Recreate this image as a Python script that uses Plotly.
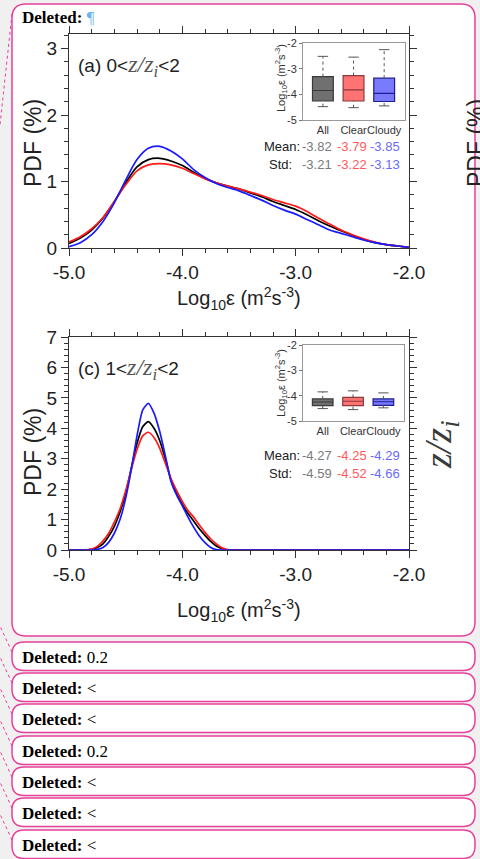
import plotly.graph_objects as go

W, H = 480, 859

# ---------------- data ----------------
x_top = [-5.0, -4.9, -4.8, -4.7, -4.6, -4.5, -4.4, -4.3, -4.2, -4.1, -4.0,
         -3.9, -3.8, -3.7, -3.6, -3.5, -3.4, -3.3, -3.2, -3.1, -3.0,
         -2.9, -2.8, -2.7, -2.6, -2.5, -2.4, -2.3, -2.2, -2.1, -2.0]
pdf_top_all = [0.07, 0.15, 0.27, 0.45, 0.70, 0.98, 1.22, 1.33, 1.35, 1.31, 1.24,
               1.14, 1.05, 0.98, 0.93, 0.89, 0.83, 0.77, 0.70, 0.64, 0.58,
               0.50, 0.41, 0.33, 0.26, 0.19, 0.13, 0.08, 0.05, 0.03, 0.01]
pdf_top_clear = [0.09, 0.17, 0.29, 0.46, 0.70, 0.95, 1.16, 1.25, 1.27, 1.25, 1.20,
                 1.12, 1.04, 0.98, 0.93, 0.89, 0.84, 0.79, 0.73, 0.68, 0.63,
                 0.55, 0.45, 0.36, 0.27, 0.20, 0.14, 0.09, 0.05, 0.03, 0.01]
pdf_top_cloudy = [0.02, 0.08, 0.20, 0.40, 0.68, 1.02, 1.33, 1.50, 1.53, 1.46, 1.34,
                  1.18, 1.06, 0.97, 0.91, 0.86, 0.79, 0.72, 0.64, 0.57, 0.51,
                  0.43, 0.35, 0.27, 0.22, 0.17, 0.12, 0.08, 0.05, 0.03, 0.01]

x_bot = [-5.0, -4.9, -4.85, -4.8, -4.75, -4.7, -4.65, -4.6, -4.55, -4.5, -4.45,
         -4.4, -4.35, -4.3, -4.25, -4.2, -4.15, -4.1, -4.05, -4.0, -3.95, -3.9,
         -3.85, -3.8, -3.75, -3.7, -3.65, -3.6, -3.55, -3.5, -3.0, -2.5, -2.0]
pdf_bot_all = [0, 0, 0, 0.02, 0.08, 0.2, 0.45, 0.78, 1.25, 1.85, 2.7,
               3.5, 4.05, 4.22, 4.0, 3.6, 3.0, 2.3, 1.85, 1.5, 1.2, 0.95,
               0.7, 0.48, 0.28, 0.13, 0.04, 0, 0, 0, 0, 0, 0]
pdf_bot_clear = [0, 0, 0, 0.03, 0.12, 0.3, 0.55, 0.92, 1.35, 1.95, 2.65,
                 3.3, 3.75, 3.87, 3.7, 3.35, 2.85, 2.35, 1.95, 1.6, 1.3, 1.08,
                 0.82, 0.58, 0.37, 0.2, 0.07, 0.01, 0, 0, 0, 0, 0]
pdf_bot_cloudy = [0, 0, 0, 0, 0.02, 0.08, 0.25, 0.55, 1.0, 1.7, 2.65,
                  3.75, 4.6, 4.82, 4.5, 3.9, 3.1, 2.25, 1.8, 1.45, 1.08, 0.75,
                  0.46, 0.24, 0.08, 0.01, 0, 0, 0, 0, 0, 0, 0]

categories = ["All", "Clear", "Cloudy"]
box_top_lo = [-4.48, -4.52, -4.45]
box_top_q1 = [-4.26, -4.26, -4.28]
box_top_med = [-3.85, -3.83, -3.96]
box_top_q3 = [-3.31, -3.27, -3.37]
box_top_hi = [-2.52, -2.55, -2.26]

box_bot_lo = [-4.51, -4.55, -4.48]
box_bot_q1 = [-4.39, -4.39, -4.38]
box_bot_med = [-4.25, -4.22, -4.24]
box_bot_q3 = [-4.13, -4.07, -4.13]
box_bot_hi = [-3.85, -3.81, -3.89]

mean_top = ["-3.82", "-3.79", "-3.85"]
std_top = ["-3.21", "-3.22", "-3.13"]
mean_bot = ["-4.27", "-4.25", "-4.29"]
std_bot = ["-4.59", "-4.52", "-4.66"]

x_ticks = [-5.0, -4.0, -3.0, -2.0]
x_ticktext = ["-5.0", "-4.0", "-3.0", "-2.0"]
inset_ticks = [-5, -4, -3, -2]
inset_ticktext = ["-5", "-4", "-3", "-2"]

deleted_items = ["0.2", "&lt;", "&lt;", "0.2", "&lt;", "&lt;", "&lt;"]

# ---------------- style ----------------
PINK = "#e8409a"
SANS = "Liberation Sans"
SERIF = "Liberation Serif"
line_colors = ["#000000", "#ff1a1a", "#1a1aff"]
box_fill = ["#707070", "#ff7373", "#7a7aff"]
box_line = ["#3a3a3a", "#8a3a3a", "#1e1e90"]
val_colors = ["#7a7a7a", "#ff5a5a", "#6a6aff"]


def px(x):
    return x / W


def py(y):
    return 1 - y / H


def rrect(x0, y0, x1, y1, r):
    P = lambda x, y: f"{px(x):.5f},{py(y):.5f}"
    return (f"M {P(x0 + r, y0)} L {P(x1 - r, y0)} Q {P(x1, y0)} {P(x1, y0 + r)} "
            f"L {P(x1, y1 - r)} Q {P(x1, y1)} {P(x1 - r, y1)} L {P(x0 + r, y1)} "
            f"Q {P(x0, y1)} {P(x0, y1 - r)} L {P(x0, y0 + r)} Q {P(x0, y0)} {P(x0 + r, y0)} Z")


fig = go.Figure()

# main curves
for ys, c in zip([pdf_top_all, pdf_top_clear, pdf_top_cloudy], line_colors):
    fig.add_trace(go.Scatter(x=x_top, y=ys, mode="lines", xaxis="x", yaxis="y",
                             line=dict(color=c, width=1.7, shape="spline", smoothing=0.8),
                             showlegend=False, hoverinfo="skip"))
for ys, c in zip([pdf_bot_all, pdf_bot_clear, pdf_bot_cloudy], line_colors):
    fig.add_trace(go.Scatter(x=x_bot, y=ys, mode="lines", xaxis="x2", yaxis="y2",
                             line=dict(color=c, width=1.7, shape="spline", smoothing=0.6),
                             showlegend=False, hoverinfo="skip"))

# inset boxes
def add_boxes(lo, q1, med, q3, hi, xa, ya):
    for i in range(3):
        fig.add_trace(go.Box(x=[i], q1=[q1[i]], median=[med[i]], q3=[q3[i]],
                             lowerfence=[q1[i]], upperfence=[q3[i]], width=0.68,
                             fillcolor=box_fill[i], line=dict(color=box_line[i], width=1.2),
                             boxpoints=False, xaxis=xa, yaxis=ya, showlegend=False,
                             hoverinfo="skip"))
        fig.add_trace(go.Scatter(x=[i, i, None, i, i], y=[lo[i], q1[i], None, q3[i], hi[i]],
                                 mode="lines", line=dict(color="#555555", width=1, dash="dot"),
                                 xaxis=xa, yaxis=ya, showlegend=False, hoverinfo="skip"))
        fig.add_trace(go.Scatter(x=[i - 0.17, i + 0.17, None, i - 0.17, i + 0.17],
                                 y=[lo[i], lo[i], None, hi[i], hi[i]],
                                 mode="lines", line=dict(color="#555555", width=1),
                                 xaxis=xa, yaxis=ya, showlegend=False, hoverinfo="skip"))


add_boxes(box_top_lo, box_top_q1, box_top_med, box_top_q3, box_top_hi, "x3", "y3")
add_boxes(box_bot_lo, box_bot_q1, box_bot_med, box_bot_q3, box_bot_hi, "x4", "y4")

main_x = dict(range=[-5, -2], tickvals=x_ticks, ticktext=x_ticktext, ticks="outside",
              ticklen=7, tickwidth=1.2, tickcolor="#333", showline=True, linecolor="#333",
              linewidth=1.2, mirror="ticks", showgrid=False, zeroline=False, automargin=False,
              minor=dict(ticks="outside", dtick=0.2, ticklen=4, tickcolor="#333", tickwidth=1),
              tickfont=dict(size=19, family=SANS, color="#222"), fixedrange=True)
main_y = dict(dtick=1, ticks="outside", ticklen=7, tickwidth=1.2, tickcolor="#333",
              showline=True, linecolor="#333", linewidth=1.2, mirror="ticks",
              showgrid=False, zeroline=False, automargin=False,
              minor=dict(ticks="outside", dtick=0.2, ticklen=4, tickcolor="#333", tickwidth=1),
              tickfont=dict(size=19, family=SANS, color="#222"), fixedrange=True)
inset_x = dict(range=[-0.65, 2.68], tickvals=[0, 1, 2], ticktext=categories, ticks="",
               tickangle=0, showline=True, linecolor="#999", linewidth=1, mirror=True,
               showgrid=False, zeroline=False, automargin=False,
               tickfont=dict(size=11, family=SANS, color="#333"), fixedrange=True)
inset_y = dict(range=[-5, -2], tickvals=inset_ticks, ticktext=inset_ticktext, ticks="outside",
               ticklen=3, tickcolor="#777", showline=True, linecolor="#999", linewidth=1,
               mirror=True, showgrid=False, zeroline=False, automargin=False,
               tickfont=dict(size=11, family=SANS, color="#333"), fixedrange=True)

fig.update_layout(
    width=W, height=H, margin=dict(l=0, r=0, t=0, b=0, pad=0, autoexpand=False),
    paper_bgcolor="#f0f0f0", plot_bgcolor="white", showlegend=False,
    xaxis=dict(domain=[px(69), px(409)], anchor="y", **main_x),
    yaxis=dict(domain=[py(248), py(34)], anchor="x", range=[0, 3.22], **main_y),
    xaxis2=dict(domain=[px(69), px(409)], anchor="y2", **main_x),
    yaxis2=dict(domain=[py(550), py(337)], anchor="x2", range=[0, 7], **main_y),
    xaxis3=dict(domain=[px(303), px(405)], anchor="y3", **inset_x),
    yaxis3=dict(domain=[py(120), py(43)], anchor="x3", **inset_y),
    xaxis4=dict(domain=[px(303), px(404)], anchor="y4", **inset_x),
    yaxis4=dict(domain=[py(421), py(345)], anchor="x4", **inset_y),
)

# balloons
shapes = []
shapes.append(dict(type="path", path=rrect(12, 4, 475, 636, 14), xref="paper", yref="paper",
                   fillcolor="white", line=dict(color=PINK, width=1.5), layer="below"))
small_tops = [642, 673, 704, 736, 767, 798, 830]
for t in small_tops:
    shapes.append(dict(type="path", path=rrect(12, t, 475, t + 28.5, 12), xref="paper",
                       yref="paper", fillcolor="white", line=dict(color=PINK, width=1.5),
                       layer="below"))
# dotted connectors
conn = [((12, 14), (0, 125))]
for t in small_tops:
    conn.append(((12, t + 10), (0, t - 16)))
for (a, b) in conn:
    shapes.append(dict(type="line", x0=px(a[0]), y0=py(a[1]), x1=px(b[0]), y1=py(b[1]),
                       xref="paper", yref="paper", line=dict(color=PINK, width=1, dash="dot"),
                       layer="below"))
fig.update_layout(shapes=shapes)

ann = []


def A(text, x, y, size, xanchor="center", color="#222", family=SANS, angle=0):
    ann.append(dict(text=text, x=px(x), y=py(y), xref="paper", yref="paper",
                    xanchor=xanchor, yanchor="middle", showarrow=False, textangle=angle,
                    font=dict(size=size, family=family, color=color)))


A("<b>Deleted:</b> <span style=\"color:#6cb4ee\">¶</span>", 20, 18, 17, "left", "#000", SERIF)
for t, item in zip(small_tops, deleted_items):
    A(f"<b>Deleted:</b> {item}", 20, t + 15, 17, "left", "#000", SERIF)

zz = ("<span style=\"font-family:Liberation Serif;color:#555;font-size:24px\"><i>z/z</i>"
      "<sub><i>i</i></sub></span>")
A("(a) 0&lt;" + zz + "&lt;2", 76, 66, 19, "left")
A("(c) 1&lt;" + zz + "&lt;2", 76, 369, 19, "left")

xtitle = "Log<sub>10</sub>ε (m<sup>2</sup>s<sup>-3</sup>)"
A(xtitle, 239, 298, 20)
A(xtitle, 239, 610, 20)
A("PDF (%)", 33, 143, 23, angle=-90)
A("PDF (%)", 33, 452, 23, angle=-90)
A("PDF (%)", 476, 143, 23, angle=-90)
A("<i>z/z</i><sub><i>i</i></sub>", 441, 445, 38, color="#3a3a3a", family=SERIF, angle=-90)

ititle = "Log<sub>10</sub>ε (m<sup>2</sup>s<sup>-3</sup>)"
A(ititle, 281, 78, 11, color="#333", angle=-90)
A(ititle, 281, 383, 11, color="#333", angle=-90)

val_x = [317, 352, 385]
for (my, sy, means, stds) in [(146, 165, mean_top, std_top), (455, 474, mean_bot, std_bot)]:
    A("Mean:", 302, my, 13, "right", "#222")
    A("Std:", 267, sy, 13, "left", "#222")
    for vx, m, s, c in zip(val_x, means, stds, val_colors):
        A(m, vx, my, 13, "center", c)
        A(s, vx, sy, 13, "center", c)

fig.update_layout(annotations=ann)
fig.write_html("out.html")
